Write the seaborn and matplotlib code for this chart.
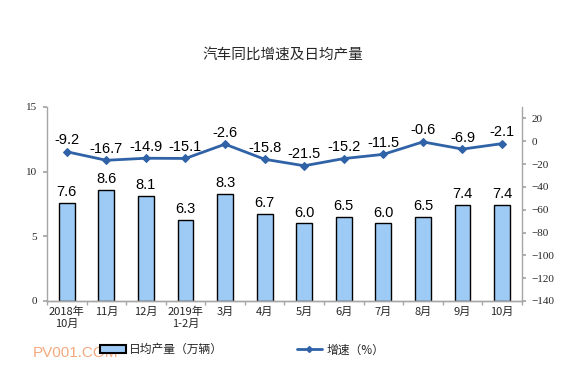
import matplotlib
matplotlib.use("Agg")
import matplotlib.pyplot as plt
import seaborn as sns
import pandas as pd
import numpy as np
from matplotlib.lines import Line2D
from matplotlib.patches import Patch

categories = ["2018年\n10月", "11月", "12月", "2019年\n1-2月", "3月", "4月", "5月", "6月", "7月", "8月", "9月", "10月"]
output = [7.6, 8.6, 8.1, 6.3, 8.3, 6.7, 6.0, 6.5, 6.0, 6.5, 7.4, 7.4]
growth = [-9.2, -16.7, -14.9, -15.1, -2.6, -15.8, -21.5, -15.2, -11.5, -0.6, -6.9, -2.1]

sns.set_theme(style="white")
plt.rcParams['font.family'] = ['Noto Sans CJK SC', 'DejaVu Sans']

df = pd.DataFrame({"cat": categories, "output": output, "growth": growth})

fig = plt.figure(figsize=(5.87, 3.77), dpi=100)
ax = fig.add_axes([0.080, 0.2016, 0.809, 0.5146])
sns.barplot(data=df, x="cat", y="output", ax=ax, color="#9DCBF6", edgecolor="black",
            linewidth=1.0, width=0.4, saturation=1)
ax.set_ylim(0, 15)
ax.set_yticks([0, 5, 10, 15])
ax.set_xlim(-0.5, 11.5)
ax.set_xlabel("")
ax.set_ylabel("")
for i, v in enumerate(output):
    ax.text(i, v + 0.3, f"{v:.1f}", ha="center", va="bottom", fontsize=10.5,
            family="Liberation Sans", color="black")

ax2 = ax.twinx()
sns.lineplot(x=np.arange(len(growth)), y=growth, ax=ax2, color="#2F62A6", marker="D",
             markersize=4, linewidth=2, markeredgecolor="#2F62A6")
ax2.set_ylim(-140, 30)
ax2.set_yticks(np.arange(-140, 21, 20))
for i, v in enumerate(growth):
    ax2.text(i, v + 4, f"{v:.1f}", ha="center", va="bottom", fontsize=10.5,
             family="Liberation Sans", color="black")

for a in (ax, ax2):
    a.spines["top"].set_visible(False)
    for s in ("left", "right", "bottom"):
        a.spines[s].set_color("#A6A6A6")
        a.spines[s].set_linewidth(1.0)
ax2.spines["left"].set_visible(False)
ax.spines["right"].set_visible(False)

ax.tick_params(axis="y", labelsize=8, length=3, color="#A6A6A6", left=True, pad=4)
ax2.tick_params(axis="y", labelsize=8, length=3, color="#A6A6A6", right=True, pad=4)
ax.tick_params(axis="x", labelsize=8, length=0, pad=4)
ax.set_xticks(np.arange(-0.5, 12, 1), minor=True)
ax.tick_params(axis="x", which="minor", length=3, color="#A6A6A6", bottom=True)
for lbl in ax.get_yticklabels() + ax2.get_yticklabels():
    lbl.set_family(["Liberation Serif", "Noto Sans CJK SC"])

fig.text(0.482, 0.855, "汽车同比增速及日均产量", ha="center", va="center", fontsize=10.5)

handles = [Patch(facecolor="#9DCBF6", edgecolor="black", linewidth=1.5),
           Line2D([0], [0], color="#2F62A6", marker="D", markersize=3, linewidth=2)]
fig.legend(handles, ["日均产量（万辆）", "增速（%）"], loc="center", bbox_to_anchor=(0.412, 0.072),
           ncol=2, frameon=False, fontsize=8.5, columnspacing=6.2, handlelength=2.2, handletextpad=0.3)

fig.text(0.128, 0.064, "PV001.COM", ha="center", va="center", fontsize=11,
         color="#F2A070", family="Liberation Sans", alpha=0.9)

fig.savefig("out.png", dpi=100)
